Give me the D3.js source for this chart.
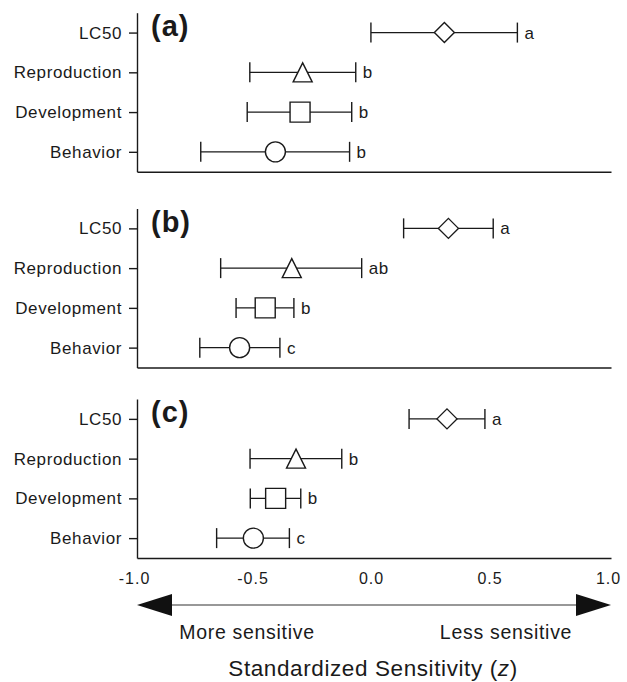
<!DOCTYPE html>
<html>
<head>
<meta charset="utf-8">
<script src="https://cdn.jsdelivr.net/npm/d3@7"></script>
<style>
  body { margin: 0; background: #fff; }
  text { font-family: "Liberation Sans", Arial, sans-serif; fill: #1a1a1a; }
</style>
</head>
<body>
<div id="chart"></div>
<script>
  const categories = ["LC50", "Reproduction", "Development", "Behavior"];
  const panelLabels = ["(a)", "(b)", "(c)"];

  // standardized sensitivity, one row per panel, in category order
  const means = [
    [0.297, -0.301, -0.312, -0.416],
    [0.314, -0.347, -0.459, -0.567],
    [0.308, -0.329, -0.415, -0.509]
  ];
  const lower = [
    [-0.013, -0.524, -0.535, -0.731],
    [0.125, -0.647, -0.582, -0.735],
    [0.148, -0.523, -0.522, -0.664]
  ];
  const upper = [
    [0.605, -0.077, -0.094, -0.103],
    [0.503, -0.052, -0.338, -0.397],
    [0.468, -0.136, -0.309, -0.357]
  ];
  const groupLetters = [
    ["a", "b", "b", "b"],
    ["a", "ab", "b", "c"],
    ["a", "b", "b", "c"]
  ];
  const xTicks = [-1.0, -0.5, 0.0, 0.5, 1.0];

  const width = 627, height = 682;
  const left = 137, right = 611;
  const panelTops = [12.7, 208.5, 399];
  const panelHeight = 159;

  const svg = d3.select("#chart").append("svg")
      .attr("width", width)
      .attr("height", height);

  const x = d3.scaleLinear().domain([-1, 1]).range([left, right]);

  // marker shapes by category
  function markerPath(cat) {
    const p = d3.path();
    if (cat === "LC50") {
      p.moveTo(0, -10); p.lineTo(10, 0); p.lineTo(0, 10); p.lineTo(-10, 0); p.closePath();
    } else if (cat === "Reproduction") {
      p.moveTo(0, -9.5); p.lineTo(9.5, 9.5); p.lineTo(-9.5, 9.5); p.closePath();
    } else if (cat === "Development") {
      p.rect(-10, -10, 20, 20);
    } else {
      p.arc(0, 0, 10, 0, 2 * Math.PI);
    }
    return p.toString();
  }

  panelLabels.forEach((label, i) => {
    const top = panelTops[i];
    const bottom = top + panelHeight;
    const y = d3.scalePoint().domain(categories).range([top, bottom]).padding(0.5);

    const rows = categories.map((c, j) => ({
      cat: c, mean: means[i][j], lo: lower[i][j], hi: upper[i][j], letter: groupLetters[i][j]
    }));

    const g = svg.append("g");

    // y axis
    const yAxis = g.append("g")
      .attr("transform", `translate(${left},0)`)
      .call(d3.axisLeft(y).tickSize(8).tickSizeOuter(0).tickPadding(7));
    yAxis.selectAll("path, line").attr("stroke", "#1a1a1a").attr("stroke-width", 1.4);
    yAxis.selectAll("text")
      .attr("font-size", 17)
      .style("letter-spacing", "0.6px")
      .attr("fill", "#1a1a1a");

    // x axis line (labels on last panel only)
    const xAxis = g.append("g")
      .attr("transform", `translate(0,${bottom})`)
      .call(d3.axisBottom(x).tickValues(i === 2 ? xTicks : []).tickSize(0).tickPadding(15)
        .tickFormat(d => d.toFixed(1)));
    xAxis.selectAll("path").attr("stroke", "#1a1a1a").attr("stroke-width", 1.4);
    xAxis.selectAll("text")
      .attr("font-size", 16)
      .attr("x", -3)
      .style("letter-spacing", "1px")
      .attr("fill", "#1a1a1a");

    // panel label
    g.append("text")
      .attr("x", left + 14)
      .attr("y", top + 23)
      .attr("font-size", 29)
      .attr("font-weight", "bold")
      .style("letter-spacing", "1px")
      .text(label);

    const bars = g.selectAll(".bar").data(rows).enter().append("g")
      .attr("class", "bar")
      .attr("transform", d => `translate(0,${y(d.cat)})`);

    bars.append("line")
      .attr("x1", d => x(d.lo)).attr("x2", d => x(d.hi))
      .attr("stroke", "#1a1a1a").attr("stroke-width", 1.4);
    bars.append("line")
      .attr("x1", d => x(d.lo)).attr("x2", d => x(d.lo))
      .attr("y1", -10).attr("y2", 10)
      .attr("stroke", "#1a1a1a").attr("stroke-width", 1.4);
    bars.append("line")
      .attr("x1", d => x(d.hi)).attr("x2", d => x(d.hi))
      .attr("y1", -10).attr("y2", 10)
      .attr("stroke", "#1a1a1a").attr("stroke-width", 1.4);
    bars.append("path")
      .attr("transform", d => `translate(${x(d.mean)},0)`)
      .attr("d", d => markerPath(d.cat))
      .attr("fill", "#fff")
      .attr("stroke", "#1a1a1a").attr("stroke-width", 1.4);
    bars.append("text")
      .attr("x", d => x(d.hi) + 7)
      .attr("dy", "0.35em")
      .attr("font-size", 17)
      .style("letter-spacing", "0.5px")
      .text(d => d.letter);
  });

  // sensitivity arrow
  const arrowY = 605;
  svg.append("line")
    .attr("x1", x(-1) + 30).attr("x2", x(1) - 30)
    .attr("y1", arrowY).attr("y2", arrowY)
    .attr("stroke", "#333").attr("stroke-width", 1.2);
  svg.append("path")
    .attr("d", `M${x(-1)},${arrowY} L${x(-1) + 35},${arrowY - 11} L${x(-1) + 35},${arrowY + 11} Z`)
    .attr("fill", "#111");
  svg.append("path")
    .attr("d", `M${x(1)},${arrowY} L${x(1) - 35},${arrowY - 11} L${x(1) - 35},${arrowY + 11} Z`)
    .attr("fill", "#111");

  svg.append("text")
    .attr("x", 247).attr("y", 639)
    .attr("text-anchor", "middle")
    .attr("font-size", 19.5)
    .style("letter-spacing", "0.7px")
    .text("More sensitive");
  svg.append("text")
    .attr("x", 506).attr("y", 639)
    .attr("text-anchor", "middle")
    .attr("font-size", 19.5)
    .style("letter-spacing", "0.7px")
    .text("Less sensitive");

  const title = svg.append("text")
    .attr("x", 373).attr("y", 676)
    .attr("text-anchor", "middle")
    .attr("font-size", 22.5)
    .style("letter-spacing", "0.6px");
  title.append("tspan").text("Standardized Sensitivity (");
  title.append("tspan").attr("font-style", "italic").text("z");
  title.append("tspan").text(")");
</script>
</body>
</html>
